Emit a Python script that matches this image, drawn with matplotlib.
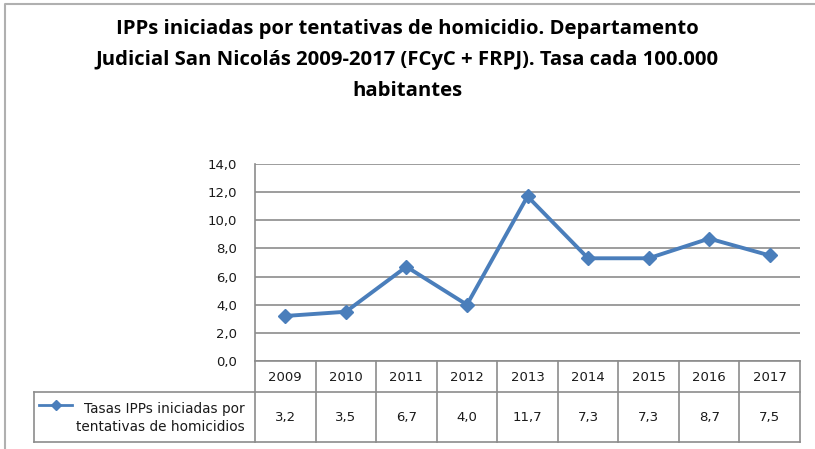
import matplotlib.pyplot as plt
from matplotlib.lines import Line2D

years = ["2009", "2010", "2011", "2012", "2013", "2014", "2015", "2016", "2017"]
tasas = [3.2, 3.5, 6.7, 4.0, 11.7, 7.3, 7.3, 8.7, 7.5]
yticks = [0, 2, 4, 6, 8, 10, 12, 14]
serie = "Tasas IPPs iniciadas por\ntentativas de homicidios"
titulo = ("IPPs iniciadas por tentativas de homicidio. Departamento\n"
          "Judicial San Nicolás 2009-2017 (FCyC + FRPJ). Tasa cada 100.000\n"
          "habitantes")

W, H = 815, 449
AZUL = "#4A7EBB"
GRIS = "#8C8C8C"
TXT = "#1A1A1A"

fig = plt.figure(figsize=(W / 100, H / 100), dpi=100)
fig.patch.set_facecolor("white")


def px(x, y):
    # pixel coords (origin top-left) -> figure fraction
    return x / W, 1 - y / H


# marco exterior del grafico (solo se ven arriba e izquierda)
fig.add_artist(Line2D([px(5, 0)[0], px(5, 0)[0], 1], [0, px(0, 4)[1], px(0, 4)[1]],
                      color="#B0B0B0", lw=1.5, transform=fig.transFigure))

fig.text(0.5, px(0, 60)[1], titulo, ha="center", va="center", fontsize=14.6,
         fontweight="bold", family=["Open Sans", "DejaVu Sans"],
         linespacing=1.72)

left, right, top, bottom = 255, 800, 164, 361
l, t = px(left, top)
r, b = px(right, bottom)
ax = fig.add_axes([l, b, r - l, t - b])

x = list(range(len(years)))
ax.plot(x, tasas, color=AZUL, lw=2.8, marker="D", ms=7.5, mec=AZUL, mfc=AZUL, zorder=3)
ax.set_xlim(-0.5, len(years) - 0.5)
ax.set_ylim(0, 14)
ax.set_yticks(yticks)
ax.set_yticklabels([f"{v:.1f}".replace(".", ",") for v in yticks], fontsize=9.5, color=TXT)
ax.tick_params(axis="y", length=0, pad=13)
ax.set_xticks([])
for s in ["top", "right", "bottom"]:
    ax.spines[s].set_visible(False)
ax.spines["left"].set_color(GRIS)
ax.spines["left"].set_linewidth(1.2)
ax.grid(axis="y", color=GRIS, lw=1.2)
ax.set_axisbelow(True)

# tabla de datos debajo del grafico
row1, row2, row3 = 361, 392, 442
tab_left = 34
col_w = (right - left) / len(years)


def hline(y, x0, x1):
    fig.add_artist(Line2D([px(x0, 0)[0], px(x1, 0)[0]], [px(0, y)[1]] * 2,
                          color=GRIS, lw=1.2, transform=fig.transFigure))


def vline(xp, y0, y1):
    fig.add_artist(Line2D([px(xp, 0)[0]] * 2, [px(0, y0)[1], px(0, y1)[1]],
                          color=GRIS, lw=1.2, transform=fig.transFigure))


hline(row1, left, right)
hline(row2, tab_left, right)
hline(row3, tab_left, right)
vline(tab_left, row2, row3)
for i in range(len(years) + 1):
    vline(left + i * col_w, row1, row3)

for i, (yr, v) in enumerate(zip(years, tasas)):
    cx = left + (i + 0.5) * col_w
    fig.text(*px(cx, (row1 + row2) / 2 + 1), yr, ha="center", va="center",
             fontsize=9.5, color=TXT)
    fig.text(*px(cx, (row2 + row3) / 2 + 1), f"{v:.1f}".replace(".", ","),
             ha="center", va="center", fontsize=9.5, color=TXT)

# clave de la serie en la tabla
fig.add_artist(Line2D([px(39, 0)[0], px(72, 0)[0]], [px(0, 405)[1]] * 2, color=AZUL, lw=2,
                      transform=fig.transFigure))
fig.add_artist(Line2D([px(56, 0)[0]], [px(0, 405)[1]], color=AZUL, marker="D", ms=5.5,
                      transform=fig.transFigure))
fig.text(*px(245, (row2 + row3) / 2 + 1), serie, ha="right", va="center",
         fontsize=9.8, color=TXT, linespacing=1.45)

fig.savefig("out.png", dpi=100, facecolor="white")
